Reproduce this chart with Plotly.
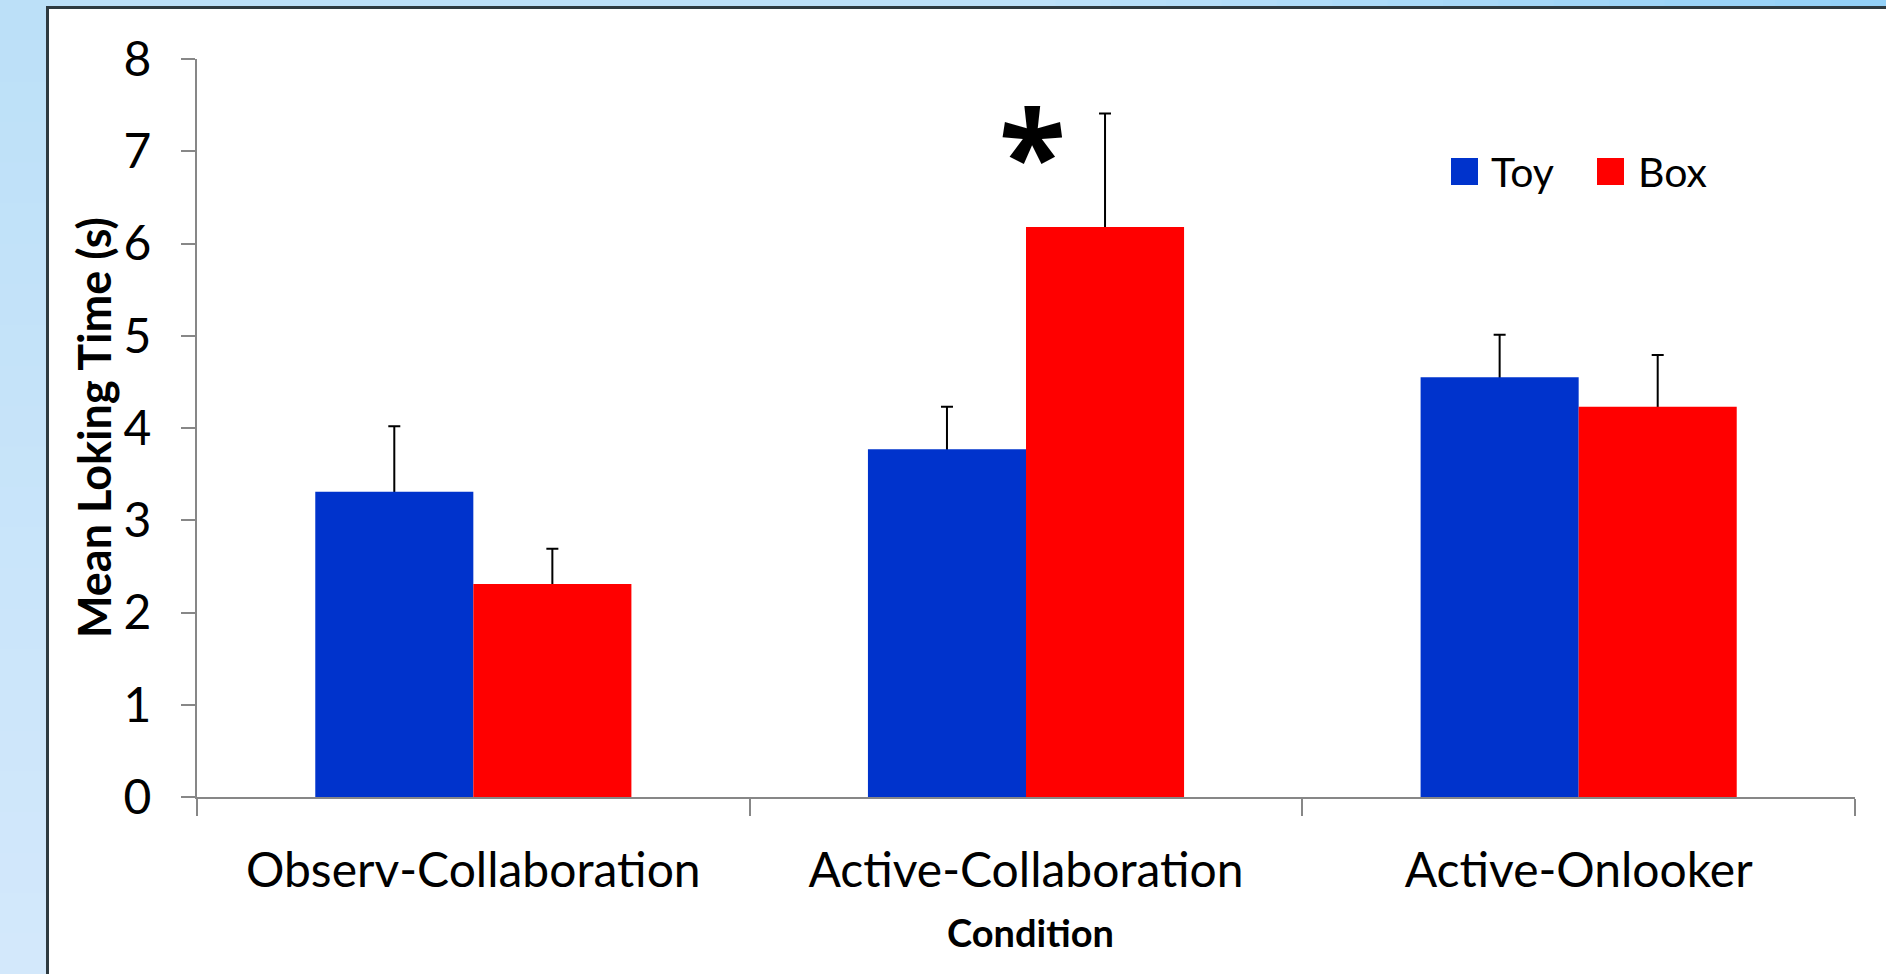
import plotly.graph_objects as go

# ---- data ----
conditions = ["Observ-Collaboration", "Active-Collaboration", "Active-Onlooker"]
toy_mean = [3.31, 3.77, 4.55]
toy_err = [0.71, 0.46, 0.46]
box_mean = [2.31, 6.18, 4.23]
box_err = [0.38, 1.23, 0.56]
y_ticks = [0, 1, 2, 3, 4, 5, 6, 7, 8]
series_names = ["Toy", "Box"]
series_colors = ["#0033CC", "#FF0000"]
significant = ["Active-Collaboration"]

W, H = 1886, 974
L, R, T, B = 197, 31, 59, 177
PW, PH = W - L - R, H - T - B
FONT = "Lato"
AXIS_GREY = "#878787"


def fx(px):
    return (px - L) / PW


def fy(py):
    return (H - B - py) / PH


fig = go.Figure()

# error bars sit on transparent carrier bars drawn first, so the
# solid bars cover the lower half and only the upper whisker shows
for name, mean, err in [("toy", toy_mean, toy_err), ("box", box_mean, box_err)]:
    fig.add_trace(go.Bar(
        x=conditions, y=mean, offsetgroup=name,
        marker=dict(color="rgba(0,0,0,0)", line=dict(width=0)),
        error_y=dict(type="data", array=err, visible=True,
                     color="black", thickness=2, width=6),
        showlegend=False, hoverinfo="skip",
    ))

for name, mean, color in [("toy", toy_mean, series_colors[0]),
                          ("box", box_mean, series_colors[1])]:
    fig.add_trace(go.Bar(
        x=conditions, y=mean, offsetgroup=name, name=name.capitalize(),
        marker=dict(color=color, line=dict(width=0)),
        showlegend=False,
    ))

shapes = []
# light blue frame: vertical gradient down the left strip
top_c = (0xBC, 0xE0, 0xF8)
bot_c = (0xD3, 0xE8, 0xFB)
n = 24
for i in range(n):
    t = i / (n - 1)
    c = tuple(round(a + (b - a) * t) for a, b in zip(top_c, bot_c))
    shapes.append(dict(type="rect", xref="paper", yref="paper", layer="below",
                       x0=fx(-5), x1=fx(W + 5),
                       y0=fy(i * H / n), y1=fy((i + 1) * H / n + 1),
                       fillcolor="rgb(%d,%d,%d)" % c, line=dict(width=0)))
# top strip turns a deeper blue toward the right
m = 16
for i in range(m):
    t = i / (m - 1)
    c = tuple(round(a + (b - a) * t) for a, b in zip((0xBD, 0xE1, 0xF9), (0x93, 0xD1, 0xF8)))
    x0 = 1000 + i * (W - 1000) / m
    shapes.append(dict(type="rect", xref="paper", yref="paper", layer="below",
                       x0=fx(x0), x1=fx(x0 + (W - 1000) / m + 1),
                       y0=fy(9), y1=fy(-5),
                       fillcolor="rgb(%d,%d,%d)" % c, line=dict(width=0)))
# white panel with dark border
shapes.append(dict(type="rect", xref="paper", yref="paper", layer="below",
                   x0=fx(47.5), x1=fx(W + 20), y0=fy(H + 20), y1=fy(7.5),
                   fillcolor="white", line=dict(color="#2E3A40", width=3)))

# legend keys
legend_x = [1451, 1597]
text_x = [1489, 1636]
annotations = []
for name, color, sx, tx in zip(series_names, series_colors, legend_x, text_x):
    shapes.append(dict(type="rect", xref="paper", yref="paper",
                       x0=fx(sx), x1=fx(sx + 27), y0=fy(185), y1=fy(158),
                       fillcolor=color, line=dict(width=0)))
    annotations.append(dict(xref="paper", yref="paper", x=fx(tx), y=fy(171),
                            xanchor="left", yanchor="middle", showarrow=False,
                            text=name, font=dict(family=FONT, size=41, color="black")))

# significance marker
for cat in significant:
    idx = conditions.index(cat)
    annotations.append(dict(xref="x", yref="y", x=cat,
                            y=max(toy_mean[idx] + toy_err[idx], box_mean[idx] + box_err[idx]) - 0.42,
                            xshift=6, showarrow=False, yanchor="middle",
                            text="<b>*</b>",
                            font=dict(family="Noto Sans", size=123, color="black")))

# axis titles
annotations.append(dict(xref="paper", yref="paper", x=fx(1030), y=fy(932),
                        xanchor="center", yanchor="middle", showarrow=False,
                        text="<b>Condition</b>",
                        font=dict(family=FONT, size=38, color="black")))
annotations.append(dict(xref="paper", yref="paper", x=fx(94), y=0.5,
                        xanchor="center", yanchor="middle", showarrow=False,
                        textangle=-90, text="<b>Mean Loking Time (s)</b>",
                        font=dict(family=FONT, size=45, color="black")))

fig.update_layout(
    width=W, height=H,
    margin=dict(l=L, r=R, t=T, b=B, pad=0),
    paper_bgcolor="#BDE0F8",
    plot_bgcolor="white",
    barmode="group", bargap=0.428, bargroupgap=0,
    showlegend=False,
    font=dict(family=FONT, color="black"),
    shapes=shapes,
    annotations=annotations,
    xaxis=dict(
        type="category", tickson="boundaries", ticks="outside", ticklen=17,
        tickwidth=2, tickcolor=AXIS_GREY, showline=True, linecolor=AXIS_GREY,
        linewidth=2, showgrid=False, zeroline=False,
        tickfont=dict(family=FONT, size=48, color="black"),
        ticklabelstandoff=30,
    ),
    yaxis=dict(
        range=[0, 8], tickvals=y_ticks, ticks="outside", ticklen=14,
        tickwidth=2, tickcolor=AXIS_GREY, showline=True, linecolor=AXIS_GREY,
        linewidth=2, showgrid=False, zeroline=False,
        tickfont=dict(family=FONT, size=48, color="black"),
        ticklabelstandoff=20,
    ),
)

fig.write_html("out.html")
